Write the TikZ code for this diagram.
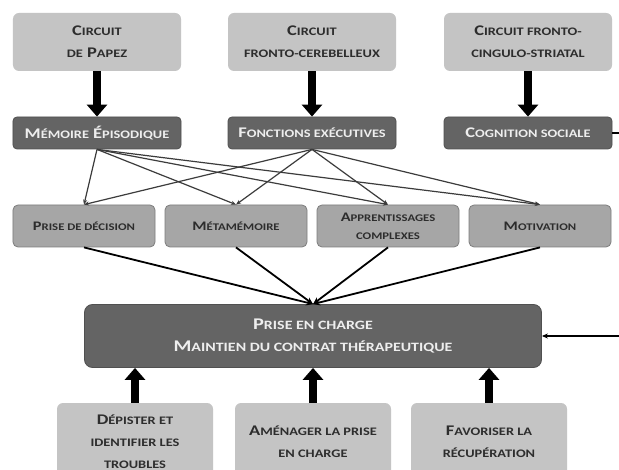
\documentclass[tikz,border=0pt]{standalone}
\usepackage{fontspec}
\setmainfont{Carlito}[FakeStretch=1.25]
\usetikzlibrary{arrows.meta}
\definecolor{grisclair}{RGB}{196,196,196}
\definecolor{grismoyen}{RGB}{166,166,166}
\definecolor{bordmoyen}{RGB}{125,125,125}
\definecolor{grisfonce}{RGB}{100,100,100}
\definecolor{bordfonce}{RGB}{80,80,80}
\definecolor{texte}{RGB}{45,45,45}
\definecolor{blanc}{RGB}{238,238,238}
\definecolor{trait}{RGB}{60,60,60}
\makeatletter
\newcommand\pc[1]{{\fontsize{\strip@pt\dimexpr0.78\dimexpr\f@size pt\relax\relax}{\f@baselineskip}\selectfont\MakeUppercase{#1}}}
\makeatother
\begin{document}
\begin{tikzpicture}[x=1bp, y=-1bp,
    clair/.style={fill=grisclair, rounded corners=6bp, minimum width=168bp, minimum height=58bp, align=center, text=texte, font=\bfseries\fontsize{14.8}{22}\selectfont},
    fonce/.style={fill=grisfonce, draw=bordfonce, line width=0.8bp, rounded corners=4bp, minimum width=168bp, minimum height=32bp, align=center, text=blanc, font=\bfseries\fontsize{14.8}{22}\selectfont},
    moyen/.style={fill=grismoyen, draw=bordmoyen, line width=0.8bp, rounded corners=5bp, minimum width=142bp, minimum height=42bp, align=center, text=texte, font=\bfseries\fontsize{13.1}{18}\selectfont},
    epais/.style={line width=8bp, -{Triangle[width=20bp,length=12bp]}},
    fin/.style={draw=trait, line width=1.2bp, -{Stealth[length=5bp,width=4bp]}},
    conv/.style={line width=1.8bp, -{Stealth[length=7bp,width=6bp]}}]
  \useasboundingbox (0,0) rectangle (619,470);
  \fill[white] (0,0) rectangle (619,470);

  \node[clair] (papez) at (97,42) {C\pc{ircuit}\\\pc{de} P\pc{apez}};
  \node[clair] (cerebelleux) at (312,42) {C\pc{ircuit}\\\pc{fronto-cerebelleux}};
  \node[clair] (striatal) at (528,42) {C\pc{ircuit fronto-}\\\pc{cingulo-striatal}};

  \node[fonce] (memoire) at (97,133) {M\pc{émoire} É\pc{pisodique}};
  \node[fonce] (fonctions) at (312,133) {F\pc{onctions exécutives}};
  \node[fonce] (cognition) at (528,133) {C\pc{ognition sociale}};

  \node[moyen] (decision) at (84,226) {P\pc{rise de décision}};
  \node[moyen] (metamemoire) at (236,226) {M\pc{étamémoire}};
  \node[moyen] (apprentissages) at (388,226) {A\pc{pprentissages}\\\pc{complexes}};
  \node[moyen] (motivation) at (540,226) {M\pc{otivation}};

  \node[fonce, minimum width=457bp, minimum height=63bp, rounded corners=8bp, font=\bfseries\fontsize{16.4}{22}\selectfont] (pec) at (313,336) {P\pc{rise en charge}\\M\pc{aintien du contrat thérapeutique}};

  \node[clair, minimum width=156bp, minimum height=78bp] (depister) at (135,442) {D\pc{épister et}\\\pc{identifier les}\\\pc{troubles}};
  \node[clair, minimum width=156bp, minimum height=78bp] (amenager) at (313,442) {A\pc{ménager la prise}\\\pc{en charge}};
  \node[clair, minimum width=156bp, minimum height=78bp] (favoriser) at (489,442) {F\pc{avoriser la}\\\pc{récupération}};

  \draw[epais] (papez.south) -- (memoire.north);
  \draw[epais] (cerebelleux.south) -- (fonctions.north);
  \draw[epais] (striatal.south) -- (cognition.north);

  \foreach \src in {memoire,fonctions}
    \foreach \dst in {decision,metamemoire,apprentissages,motivation}
      \draw[fin] (\src.south) -- (\dst.north);

  \foreach \dst in {decision,metamemoire,apprentissages,motivation}
    \draw[conv] (\dst.south) -- (pec.north);

  \draw[line width=1.5bp, -{Stealth[length=6bp,width=5bp]}] (cognition.east) -- ++(30,0) |- (pec.east);

  \foreach \src in {depister,amenager,favoriser}
    \draw[epais] (\src.north) -- (\src.north |- pec.south);
\end{tikzpicture}
\end{document}
